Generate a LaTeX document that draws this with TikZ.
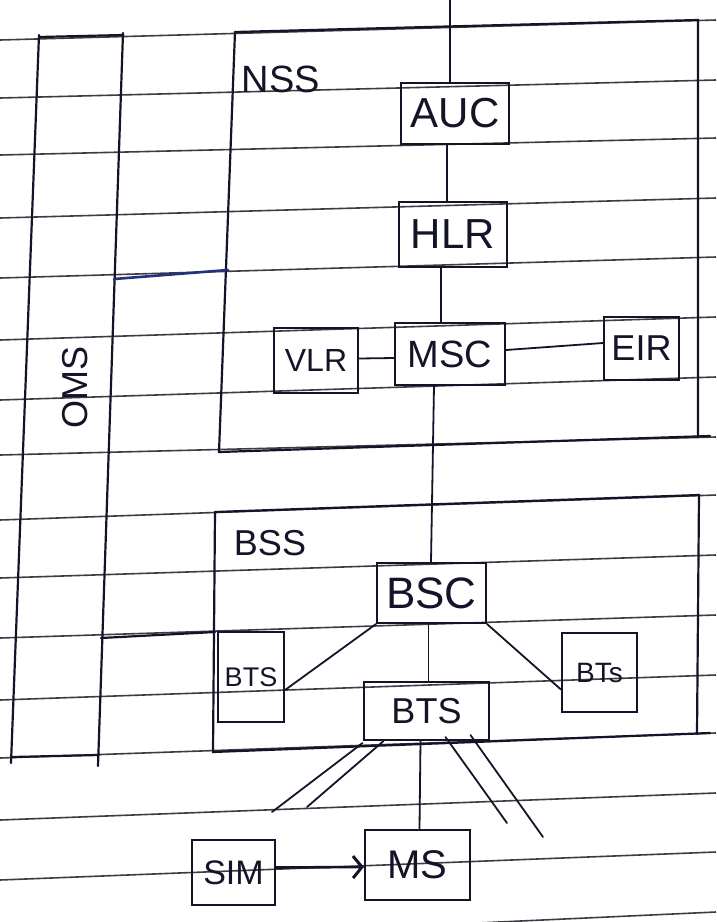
\documentclass[tikz,border=0pt]{standalone}
\usepackage{fontspec}
\setmainfont{Liberation Sans}
\usetikzlibrary{arrows.meta}
\definecolor{pen}{RGB}{20,20,40}
\definecolor{rulecol}{RGB}{60,60,66}
\definecolor{bluepen}{RGB}{35,50,125}
\newcommand\fsz[1]{\fontsize{#1}{#1}\selectfont}
\begin{document}
\begin{tikzpicture}[x=1pt,y=-1pt,
  box/.style={draw=pen, line width=2.1pt, inner sep=0pt, text=pen},
  conn/.style={draw=pen, line width=1.8pt, line cap=round},
  edgeline/.style={draw=pen, line width=2.2pt, line cap=round},
  ruled/.style={draw=rulecol, line width=1.6pt},
  lbl/.style={text=pen, inner sep=0pt}]
\fill[white] (0,0) rectangle (716,922);
\useasboundingbox (0,0) rectangle (716,922);
\clip (0,0) rectangle (716,922);
% ruled paper lines
\foreach \a/\b in {40/20, 98/80, 155/138, 218/198, 278/257, 340/317, 400/377,
  455/437, 520/495, 578/555, 638/615, 700/675, 758/733, 820/793, 880/852, 945/912}
  \draw[ruled] (0,\a) -- (716,\b);

% OMS column
\coordinate (omsTL) at (39,35);
\coordinate (omsTR) at (123,33);
\coordinate (omsBL) at (11,763);
\coordinate (omsBR) at (98,766);
\draw[edgeline] (omsTL) -- (omsBL);
\draw[edgeline] (omsTR) -- (omsBR);
\draw[edgeline] (39,37) -- (123,35);
\draw[edgeline] (12,757) -- (99,755);
\node[lbl, rotate=90, font=\fsz{36}] (oms) at (75,387) {OMS};

% NSS container
\coordinate (nssTL) at (235,32);
\coordinate (nssTR) at (698,20);
\coordinate (nssBR) at (698,437);
\coordinate (nssBL) at (219,452);
\draw[edgeline] (nssTL) -- (nssTR) -- (nssBR);
\draw[edgeline] (nssTL) -- (nssBL) -- (710,436);
\node[lbl, font=\fsz{38}] (nsslbl) at (281,79) {NSS};

% BSS container
\coordinate (bssTL) at (215,512);
\coordinate (bssTR) at (699,495);
\coordinate (bssBR) at (697,734);
\coordinate (bssBL) at (213,752);
\draw[edgeline] (bssTL) -- (bssTR) -- (bssBR);
\draw[edgeline] (bssTL) -- (bssBL) -- (710,733);
\node[lbl, font=\fsz{36}] (bsslbl) at (270,543) {BSS};

% OMS links
\coordinate (o1) at (114,279);
\coordinate (n1) at (228,270);
\draw[line width=2.6pt, draw=bluepen, line cap=round] (o1) -- (n1);
\coordinate (o2) at (101,638);
\coordinate (b1) at (215,632);
\draw[edgeline] (o2) -- (b1);

% NSS boxes
\node[box, minimum width=108pt, minimum height=61pt, font=\fsz{42}] (auc) at (455,113.5) {AUC};
\node[box, minimum width=108pt, minimum height=65pt, font=\fsz{42}] (hlr) at (453,234.5) {HLR};
\node[box, minimum width=110pt, minimum height=62pt, font=\fsz{38}] (msc) at (450,354) {MSC};
\node[box, minimum width=84pt, minimum height=65pt, font=\fsz{32}] (vlr) at (316,360.5) {VLR};
\node[box, minimum width=75pt, minimum height=63pt, font=\fsz{36}] (eir) at (641.5,348.5) {EIR};

% BSS boxes
\node[box, minimum width=109pt, minimum height=60pt, font=\fsz{44}] (bsc) at (431.5,593) {BSC};
\node[box, minimum width=66pt, minimum height=90pt, font=\fsz{27}] (btsl) at (251,677) {BTS};
\node[box, minimum width=75pt, minimum height=79pt, font=\fsz{28}] (btsr) at (599.5,672.5) {BTs};
\node[box, minimum width=125pt, minimum height=58pt, font=\fsz{36}] (btsm) at (426.5,711) {BTS};

% mobile side
\node[box, minimum width=83pt, minimum height=65pt, font=\fsz{34}] (sim) at (233.5,872.5) {SIM};
\node[box, minimum width=105pt, minimum height=70pt, font=\fsz{40}] (ms) at (417.5,865) {MS};

% connectors
\coordinate (topend) at (450,0);
\draw[conn] (topend) -- ([xshift=-5pt]auc.north);
\draw[conn] ([xshift=-8pt]auc.south) -- ([xshift=-6pt]hlr.north);
\draw[conn] ([xshift=-12pt]hlr.south) -- ([xshift=-9pt]msc.north);
\draw[conn] ([yshift=2pt]vlr.east) -- ([yshift=-4pt]msc.west);
\draw[conn] ([yshift=4pt]msc.east) -- ([yshift=5.5pt]eir.west);
\draw[conn] ([xshift=-16pt]msc.south) -- ([xshift=-0.5pt]bsc.north);
\draw[conn] (bsc.south west) -- ([yshift=-13pt]btsl.east);
\draw[conn] (bsc.south east) -- ([yshift=-17pt]btsr.west);
\draw[conn] ([xshift=-3pt]bsc.south) -- ([xshift=2pt]btsm.north);

% radio links from the middle BTS
\coordinate (r1) at (272,812);
\coordinate (r2) at (307,807);
\coordinate (r3) at (507,823);
\coordinate (r4) at (543,837);
\draw[conn] ([xshift=-64pt,yshift=-2pt]btsm.south) -- (r1);
\draw[conn] ([xshift=-43pt]btsm.south) -- (r2);
\draw[conn] ([xshift=19pt,yshift=4pt]btsm.south) -- (r3);
\draw[conn] ([xshift=44pt,yshift=6pt]btsm.south) -- (r4);
\draw[conn] ([xshift=-6pt]btsm.south) -- ([xshift=2pt]ms.north);

% SIM to MS
\draw[conn, line width=2.6pt, -{Straight Barb[length=9pt,width=22pt,line width=3pt]}] ([yshift=5pt]sim.east) -- ([yshift=-2pt]ms.west);
\end{tikzpicture}
\end{document}
